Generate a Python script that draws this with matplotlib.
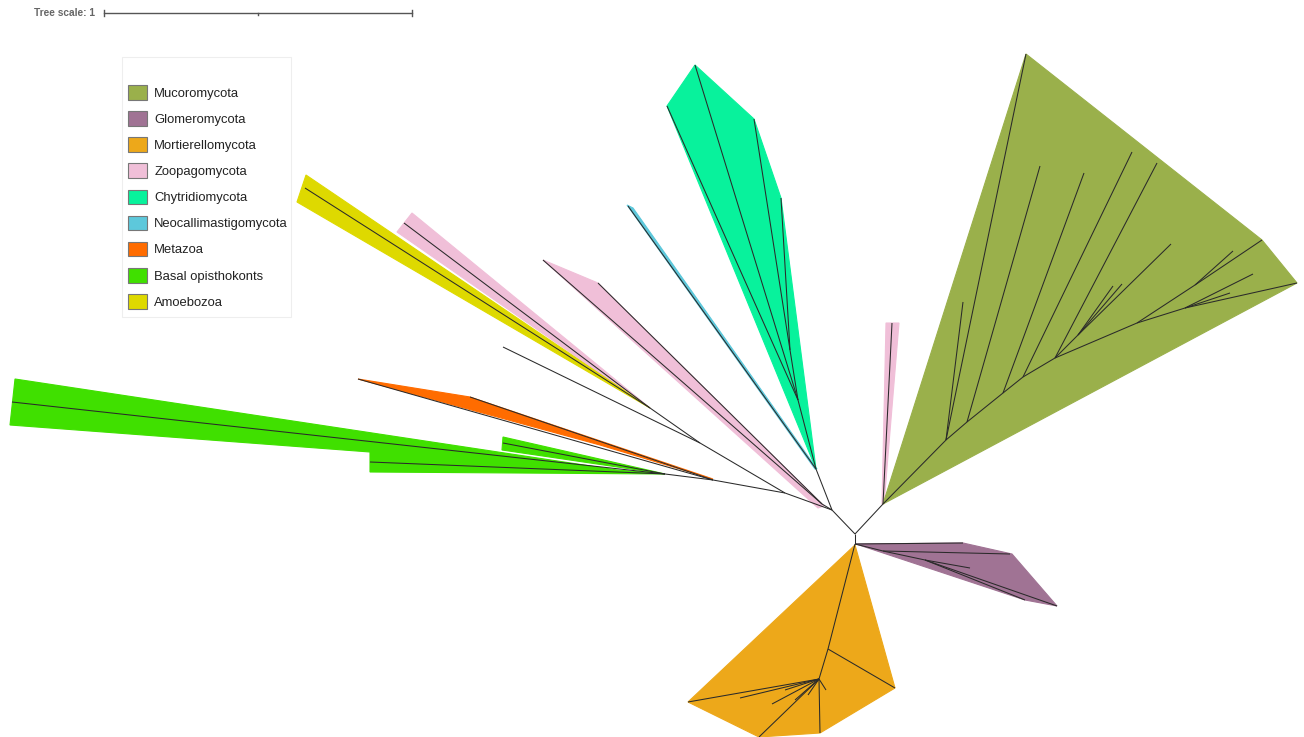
import matplotlib
matplotlib.use("Agg")
import matplotlib.pyplot as plt
from matplotlib.patches import Polygon, Patch, Rectangle

plt.rcParams['font.family'] = ['Liberation Sans', 'DejaVu Sans']

# clade names and colours (legend order)
clades = ['Mucoromycota', 'Glomeromycota', 'Mortierellomycota', 'Zoopagomycota',
          'Chytridiomycota', 'Neocallimastigomycota', 'Metazoa',
          'Basal opisthokonts', 'Amoebozoa']
colors = ['#9AB04B', '#A07394', '#EDA81A', '#F0BFD8',
          '#08F29C', '#5DC8DB', '#FF6C00', '#40E000', '#DED900']

# node layout of the unrooted tree (pixel units, y down)
nodes = {
    'root': (855, 534), 'n_mucor': (883, 504), 'n_left': (832, 510), 'n_mg': (855, 544),
    # chytrids + neocallimastigo
    'n_chyt': (816, 469), 'neo': (628, 206), 'c1': (798, 400), 'chy_a': (695, 65),
    'chy_b': (667, 106), 'c2': (790, 350), 'chy_c': (754, 119), 'chy_d': (781, 198),
    # zoopago 2
    'n_zoo2': (822, 504), 'zoo2_a': (543, 260), 'zoo2_b': (598, 283),
    # left part
    'n_l2': (785, 493), 'n_y': (700, 443), 'lone': (503, 347), 'n_yp': (650, 408),
    'amoe': (305, 188), 'zoo1': (404, 223),
    'n_mb': (713, 480), 'meta_a': (358, 379), 'meta_b': (470, 397),
    'n_b': (665, 474), 'bas_a': (12, 402), 'n_b2': (617, 472), 'bas_b': (370, 462),
    'bas_c': (503, 443),
    # zoopago 3
    'zoo3': (892, 323),
    # mucoromycota
    'm1': (946, 440), 'm1a': (1026, 54), 'm1b': (963, 302), 'm2': (967, 422), 'm2a': (1040, 166),
    'm3': (1003, 393), 'm3a': (1084, 173), 'm4': (1023, 377), 'm4a': (1132, 152),
    'm5': (1055, 358), 'm5a': (1157, 163), 'm5b': (1078, 335), 'm5c': (1171, 244),
    'm5d': (1113, 286), 'm5e': (1122, 284), 'm6': (1137, 323), 'm6b': (1195, 285),
    'm6c': (1262, 240), 'm6d': (1233, 251), 'm7': (1185, 308), 'm7a': (1253, 274),
    'm7b': (1297, 283), 'm7c': (1230, 293),
    # glomeromycota
    'g1': (883, 551), 'g1a': (963, 543), 'g1b': (1010, 554), 'g2': (925, 560),
    'g2a': (970, 568), 'g2b': (1057, 606), 'g2c': (1025, 600),
    # mortierellomycota
    'o1': (828, 649), 'o1a': (895, 688), 'o2': (819, 679), 'o2a': (688, 702),
    'o2b': (759, 737), 'o2c': (820, 733), 'o2d': (772, 704), 'o2e': (740, 698),
    'o2f': (795, 700), 'o2g': (808, 695), 'o2h': (826, 690), 'o2i': (785, 690),
}

edges = [
    ('root', 'n_mucor'), ('root', 'n_left'), ('root', 'n_mg'),
    ('n_left', 'n_chyt'), ('n_chyt', 'neo'), ('n_chyt', 'c1'), ('c1', 'chy_a'),
    ('c1', 'chy_b'), ('c1', 'c2'), ('c2', 'chy_c'), ('c2', 'chy_d'),
    ('n_left', 'n_zoo2'), ('n_zoo2', 'zoo2_a'), ('n_zoo2', 'zoo2_b'),
    ('n_left', 'n_l2'), ('n_l2', 'n_y'), ('n_y', 'lone'), ('n_y', 'n_yp'),
    ('n_yp', 'amoe'), ('n_yp', 'zoo1'),
    ('n_l2', 'n_mb'), ('n_mb', 'meta_a'), ('n_mb', 'meta_b'),
    ('n_mb', 'n_b'), ('n_b', 'bas_a'), ('n_b', 'n_b2'), ('n_b2', 'bas_b'), ('n_b', 'bas_c'),
    ('n_mucor', 'zoo3'),
    ('n_mucor', 'm1'), ('m1', 'm1a'), ('m1', 'm1b'), ('m1', 'm2'), ('m2', 'm2a'),
    ('m2', 'm3'), ('m3', 'm3a'), ('m3', 'm4'), ('m4', 'm4a'), ('m4', 'm5'),
    ('m5', 'm5a'), ('m5', 'm5b'), ('m5b', 'm5c'), ('m5b', 'm5d'), ('m5b', 'm5e'),
    ('m5', 'm6'), ('m6', 'm6b'), ('m6b', 'm6c'), ('m6b', 'm6d'), ('m6', 'm7'),
    ('m7', 'm7a'), ('m7', 'm7b'), ('m7', 'm7c'),
    ('n_mg', 'g1a'), ('n_mg', 'g1'), ('g1', 'g1b'), ('g1', 'g2'), ('g2', 'g2a'),
    ('g2', 'g2b'), ('g2', 'g2c'),
    ('n_mg', 'o1'), ('o1', 'o1a'), ('o1', 'o2'), ('o2', 'o2a'), ('o2', 'o2b'),
    ('o2', 'o2c'), ('o2', 'o2d'), ('o2', 'o2e'), ('o2', 'o2f'), ('o2', 'o2g'),
    ('o2', 'o2h'), ('o2', 'o2i'),
]

# clade hulls: (legend index, outline vertices)
hulls = [
    (7, [(15, 379), (617, 470), (665, 474), (370, 472), (370, 452), (10, 425)]),
    (7, [(503, 437), (665, 474), (502, 450)]),
    (6, [(358, 379), (470, 397), (713, 479), (600, 445)]),
    (3, [(412, 213), (650, 408), (397, 232)]),
    (8, [(306, 175), (650, 408), (297, 202)]),
    (3, [(543, 260), (598, 283), (824, 506), (818, 508)]),
    (5, [(627, 205), (633, 208), (817, 469), (815, 469)]),
    (4, [(667, 106), (695, 65), (754, 119), (781, 198), (816, 469)]),
    (3, [(886, 323), (899, 323), (884, 504), (882, 504)]),
    (0, [(883, 504), (1026, 54), (1262, 240), (1297, 283)]),
    (1, [(856, 544), (963, 543), (1012, 554), (1057, 606), (1025, 600)]),
    (2, [(855, 545), (895, 688), (820, 733), (759, 737), (688, 702)]),
]

fig = plt.figure(figsize=(13.04, 7.37), dpi=100)
ax = fig.add_axes([0, 0, 1, 1])
ax.set_xlim(0, 1304)
ax.set_ylim(737, 0)
ax.axis('off')

for ci, verts in hulls:
    ax.add_patch(Polygon(verts, closed=True, facecolor=colors[ci],
                         edgecolor=colors[ci], linewidth=0.8, zorder=1))

for a, b in edges:
    (x1, y1), (x2, y2) = nodes[a], nodes[b]
    ax.plot([x1, x2], [y1, y2], color='#2a2a2a', lw=0.75, zorder=2,
            solid_capstyle='butt')

# tree scale bar
ax.text(34, 13, 'Tree scale: 1', fontsize=7.3, color='#666666', fontweight='bold',
        va='center', ha='left')
ax.plot([104, 412], [13, 13], color='#555555', lw=1)
for xt, h in [(104, 3), (412, 3)]:
    ax.plot([xt, xt], [13 - h, 13 + h], color='#555555', lw=1)
ax.plot([258, 258], [13, 15], color='#555555', lw=1)

# legend
ax.add_patch(Rectangle((122, 57), 169, 260, facecolor='white',
                       edgecolor='#eeeeee', lw=0.8, zorder=3))
handles = [Patch(facecolor=c, edgecolor='#777777', linewidth=0.8) for c in colors]
ax.legend(handles, clades, loc='upper left',
          bbox_to_anchor=(128 / 1304, 1 - 85 / 737), frameon=False,
          fontsize=9.4, handlelength=1.42, handleheight=1.34, handletextpad=0.6,
          labelspacing=0.88, borderpad=0, borderaxespad=0, labelcolor='#222222')

fig.savefig('out.png', dpi=100)
